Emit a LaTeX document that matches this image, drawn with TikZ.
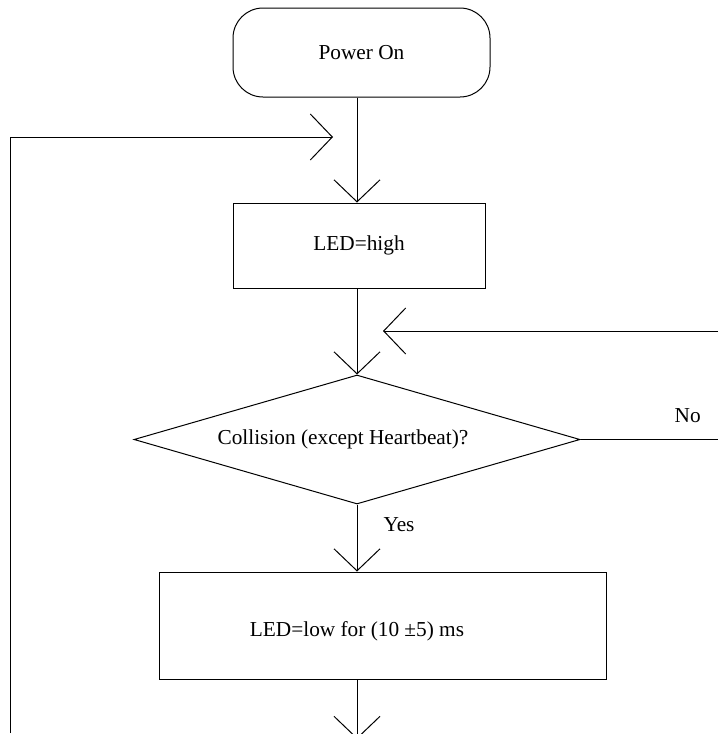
\documentclass[tikz,border=0pt]{standalone}
\usepackage{fontspec}
\setmainfont{Liberation Serif}
\usetikzlibrary{positioning,shapes.geometric,arrows.meta}

\begin{document}
\begin{tikzpicture}[x=0.5pt, y=-0.5pt, line width=0.5pt,
    every node/.style={font=\fontsize{10.65}{13}\selectfont},
    startbox/.style={draw, rectangle, rounded corners=15pt, minimum width=128.5pt, minimum height=44.5pt, inner sep=0pt},
    procbox/.style={draw, rectangle, inner sep=0pt},
    decision/.style={draw, diamond, minimum width=223pt, minimum height=64.5pt, inner sep=0pt},
    flow/.style={-{Straight Barb[length=11pt, width=23pt]}}]
    \useasboundingbox (0,0) rectangle (718,734);
    \coordinate (spine) at (357,0);
    \coordinate (rightedge) at (718,0);

    \node[startbox] (power) at (361.5,52.5) {Power On};
    \node[procbox, minimum width=126pt, minimum height=42.5pt, below=52.5pt of power, xshift=-1.25pt] (ledhigh) {LED=high};
    \node[decision, below=43pt of ledhigh, xshift=-1pt] (collision) {};
    \node[xshift=-7pt] (collisiontext) at (collision.center) {Collision (except Heartbeat)?};
    \node[procbox, minimum width=223.5pt, minimum height=53.5pt, below=33.5pt of collision, xshift=12.75pt] (ledlow) {};
    \node[yshift=-2.75pt] (ledlowtext) at (ledlow.center -| spine) {LED=low for (10 ±5) ms};

    % loose ends
    \coordinate (loopfoot) at (10.5,733);
    \coordinate (loophead) at (333,137);
    \coordinate (noend) at (collision.east -| rightedge);
    \coordinate (noback) at (718,331);
    \coordinate (nojoin) at (383,331);
    \coordinate (bottomend) at (357,739);

    \draw[flow] (power.south -| spine) -- (ledhigh.north -| spine);
    \draw[flow] (ledhigh.south -| spine) -- (collision.north);
    \draw (collision.east) -- node[pos=0.78, above=8pt, inner sep=0pt] {No} (noend);
    \draw[flow] (noback) -- (nojoin);
    \draw[flow] (collision.south) -- node[pos=0.3, right=13pt, inner sep=0pt] {Yes} (ledlow.north -| spine);
    \draw[flow] (ledlow.south -| spine) -- (bottomend);
    \draw[flow] (loopfoot) |- (loophead);

\end{tikzpicture}
\end{document}
